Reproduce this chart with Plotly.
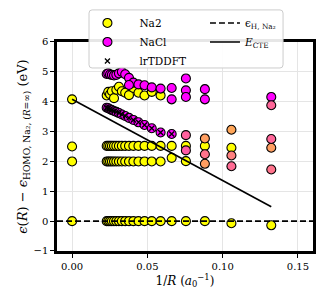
import plotly.graph_objects as go

# 1/R values (a0^-1): R = infinity, then 23 ... 4 Angstrom
inv_R = [0.0, 0.02301, 0.02405, 0.02520, 0.02646, 0.02785, 0.02940, 0.03113,
         0.03307, 0.03528, 0.03780, 0.04071, 0.04410, 0.04811, 0.05292,
         0.05880, 0.06615, 0.07560, 0.08820, 0.10583, 0.13229]
N = None

# eigenvalues (eV) of individual states and their Na2 character (1 = Na2, 0 = NaCl)
homo_y = [0.00, 0.00, 0.00, 0.00, 0.00, 0.00, 0.00, 0.00, 0.00, 0.00, 0.00,
          0.00, 0.00, 0.00, 0.00, 0.00, 0.00, 0.00, 0.00, -0.07, -0.14]
homo_f = [1] * 21

s20_y = [2.00, 2.00, 2.00, 2.00, 2.00, 2.00, 2.00, 2.00, 2.00, 2.00, 2.00,
         2.00, 2.00, 2.00, 2.00, 2.00, 2.12, 2.01, 1.92, 1.84, 1.73]
s20_f = [1, 1, 1, 1, 1, 1, 1, 1, 1, 1, 1, 1, 1, 1, 1, 1, 1, 1, 0.62, 0.42, 0.45]

s25_y = [2.50, 2.52, 2.52, 2.52, 2.52, 2.52, 2.52, 2.52, 2.52, 2.52, 2.52,
         2.52, 2.52, 2.52, 2.52, 2.52, 2.52, 2.52, 2.52, 2.46, 2.46]
s25_f = [1, 1, 1, 1, 1, 1, 1, 1, 1, 1, 1, 1, 1, 1, 1, 1, 1, 1, 1, 1, 0.62]

mix_y = [N, N, N, N, N, N, N, N, N, N, N, N, N, N, N, N, N, 2.37, 2.24, 2.20, 2.75]
mix_f = [1, 1, 1, 1, 1, 1, 1, 1, 1, 1, 1, 1, 1, 1, 1, 1, 1, 0.35, 0.45, 0.5, 0.4]

ct_y = [N, 3.80, 3.78, 3.75, 3.72, 3.69, 3.66, 3.62, 3.57, 3.52, 3.46,
        3.39, 3.31, 3.22, 3.11, 2.97, 2.92, 2.88, 2.77, 3.06, N]
ct_f = [0, 0, 0, 0, 0, 0, 0, 0, 0, 0, 0, 0, 0, 0, 0, 0, 0, 0.38, 0.62, 0.65, 0]

up_na2_y = [4.08, 4.21, 4.33, 4.25, 4.35, 4.12, 4.40, 4.50, 4.35, 4.30, 4.22,
            4.46, 4.30, 4.21, 4.33, 4.21, N, N, N, N, N]
up_na2_f = [1] * 21

up1_y = [N, 4.93, 4.95, 4.91, 4.90, 4.88, 4.90, 4.95, 5.00, 4.92, 4.80,
         4.64, 4.58, 4.55, 4.48, 4.44, 4.46, 4.78, 4.42, N, 4.16]
up1_f = [0] * 21

up2_y = [N, N, N, N, N, N, N, N, N, N, 4.56, N, N, N, N, N, 4.08, 4.38, 4.08, N, 3.88]
up2_f = [0, 0, 0, 0, 0, 0, 0, 0, 0, 0, 0, 0, 0, 0, 0, 0, 0, 0, 0, 0, 0.4]

up3_y = [N, N, N, N, N, N, N, N, N, N, N, N, N, N, N, N, N, 4.16, N, N, N]
up3_f = [0] * 21

# lrTDDFT excitation energies
td_y = [N, 3.80, 3.78, 3.75, 3.72, 3.69, 3.66, 3.62, 3.57, 3.52, 3.46,
        3.39, 3.31, 3.22, 3.11, 2.97, 2.92, N, N, N, N]

# reference lines
xlim = [-0.01, 0.16]
ylim = [-1, 6]
eps_H = [0.0, 0.0]
ecte_x = [0.0, 0.13229]
ecte_y = [4.08, 0.48]

SPRING = [[0, '#ff00ff'], [1, '#ffff00']]

fig = go.Figure()

# legend proxies (legend-only)
fig.add_trace(go.Scatter(x=[None], y=[None], mode='markers', name='Na2', legend='legend',
                         marker=dict(size=9, color='#ffff00', line=dict(color='black', width=1.1))))
fig.add_trace(go.Scatter(x=[None], y=[None], mode='markers', name='NaCl', legend='legend',
                         marker=dict(size=9, color='#ff00ff', line=dict(color='black', width=1.1))))

states = [(homo_y, homo_f), (s20_y, s20_f), (s25_y, s25_f), (mix_y, mix_f),
          (up_na2_y, up_na2_f), (up1_y, up1_f), (up2_y, up2_f), (up3_y, up3_f),
          (ct_y, ct_f)]
for ys, fs in states:
    fig.add_trace(go.Scatter(
        x=inv_R, y=ys, mode='markers', showlegend=False,
        marker=dict(size=9, color=fs, colorscale=SPRING, cmin=0, cmax=1,
                    line=dict(color='black', width=1.1))))

fig.add_trace(go.Scatter(
    x=inv_R, y=td_y, mode='markers', name='lrTDDFT', legend='legend',
    marker=dict(symbol='x-thin', size=5, color='black',
                line=dict(color='black', width=1.3))))

fig.add_trace(go.Scatter(x=xlim, y=eps_H, mode='lines', legend='legend2',
                         name='ϵ<sub>H, Na₂</sub>',
                         line=dict(color='black', width=1.6, dash='6px,3px')))
fig.add_trace(go.Scatter(x=ecte_x, y=ecte_y, mode='lines', legend='legend2',
                         name='<i>E</i><sub>CTE</sub>',
                         line=dict(color='black', width=1.6)))

# paper spans y = 5 px .. 251 px (246 px); plot area top at 42 px
Y_TOP = 0.8496

# legend box
x0, x1, y0, y1 = 0.125, 0.883, 0.744, 0.980
rx, ry = 0.012, 0.013
path = (f"M {x0+rx},{y0} L {x1-rx},{y0} Q {x1},{y0} {x1},{y0+ry} L {x1},{y1-ry} "
        f"Q {x1},{y1} {x1-rx},{y1} L {x0+rx},{y1} Q {x0},{y1} {x0},{y1-ry} "
        f"L {x0},{y0+ry} Q {x0},{y0} {x0+rx},{y0} Z")
fig.add_shape(type='path', path=path, xref='paper', yref='paper', layer='above',
              fillcolor='rgba(255,255,255,0.9)', line=dict(color='#cccccc', width=1))

axis_common = dict(showline=True, linewidth=2.5, linecolor='black', mirror=True,
                   ticks='outside', ticklen=4, tickwidth=1, tickcolor='black',
                   showgrid=True, gridcolor='#e5e5e5', gridwidth=1, zeroline=False,
                   automargin=False,
                   tickfont=dict(family='DejaVu Serif', size=10, color='black'))

fig.update_layout(
    width=329, height=304,
    margin=dict(l=57, r=16, t=5, b=53),
    plot_bgcolor='white', paper_bgcolor='white',
    font=dict(family='DejaVu Serif', size=11, color='black'),
    xaxis=dict(range=xlim, tickvals=[0, 0.05, 0.10, 0.15],
               ticktext=['0.00', '0.05', '0.10', '0.15'],
               title=dict(text='1/<i>R</i> (<i>a</i><sub>0</sub><sup>−1</sup>)',
                          font=dict(size=12), standoff=6),
               **axis_common),
    yaxis=dict(range=ylim, dtick=1, domain=[0, Y_TOP],
               title=dict(text='<i>ϵ</i>(<i>R</i>) − <i>ϵ</i><sub>HOMO, Na₂, (<i>R</i>=∞)</sub> (eV)',
                          font=dict(size=13), standoff=3),
               **axis_common),
    legend=dict(x=0.072, y=0.986, xanchor='left', yanchor='top',
                bgcolor='rgba(0,0,0,0)', borderwidth=0, traceorder='normal',
                itemwidth=54, tracegroupgap=0,
                font=dict(family='DejaVu Serif', size=10.5)),
    legend2=dict(x=0.578, y=0.986, xanchor='left', yanchor='top',
                 bgcolor='rgba(0,0,0,0)', borderwidth=0, traceorder='normal',
                 font=dict(family='DejaVu Serif', size=10.5)),
)

fig.write_html('out.html', config={'displayModeBar': False},
               post_script="document.body.style.margin='0px';")
